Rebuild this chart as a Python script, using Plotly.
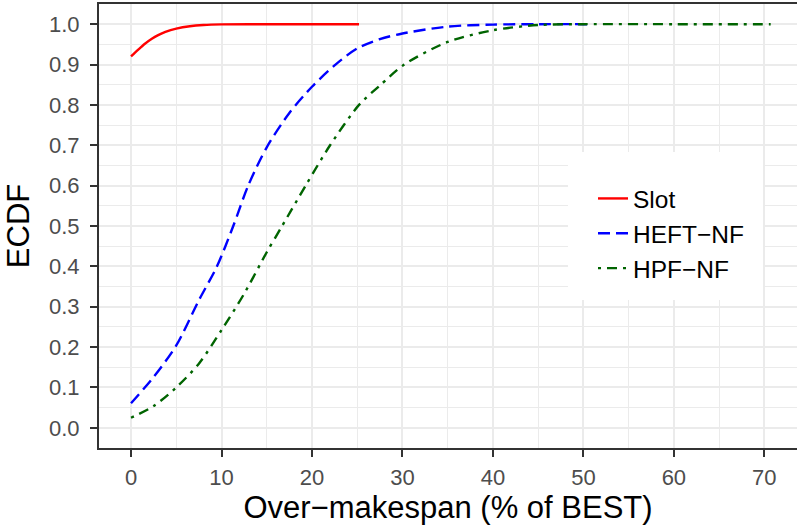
import plotly.graph_objects as go

# ---- data ----
slot_x = [0, 0.8, 1.5, 2.3, 3.0, 3.8, 5.0, 6.5, 8.0, 10.0, 15.0, 25.2]
slot_y = [0.92, 0.937, 0.951, 0.964, 0.973, 0.981, 0.989, 0.995, 0.998, 0.9995, 1.0, 1.0]

heft_x = [0, 2.5, 5, 7.5, 9.5, 11.3, 12.95, 15.0, 17.5, 20, 22.6, 25, 27.5, 30, 35, 40, 45, 50.7]
heft_y = [0.061, 0.126, 0.204, 0.316, 0.4, 0.5, 0.6, 0.695, 0.78, 0.845, 0.9, 0.94, 0.963,
          0.977, 0.994, 0.999, 1.0, 1.0]

hpf_x = [0, 2.5, 5, 7.5, 10, 12.5, 15, 16.7, 19.3, 22, 25.2, 27.5, 30.2, 35, 40, 45, 50, 60, 70.7]
hpf_y = [0.025, 0.054, 0.10, 0.159, 0.242, 0.332, 0.435, 0.5, 0.6, 0.7, 0.8, 0.848,
         0.9, 0.956, 0.985, 0.998, 1.0, 1.0, 1.0]

series_names = ["Slot", "HEFT\u2212NF", "HPF\u2212NF"]
x_ticks = [0, 10, 20, 30, 40, 50, 60, 70]
y_ticks = [0.0, 0.1, 0.2, 0.3, 0.4, 0.5, 0.6, 0.7, 0.8, 0.9, 1.0]

FONT = "Liberation Sans, Arial, Helvetica, sans-serif"

fig = go.Figure()
fig.add_trace(go.Scatter(x=slot_x, y=slot_y, mode="lines", name=series_names[0],
                         line=dict(color="#FF0000", width=2.4, shape="spline", smoothing=0.8),
                         legendgroup="a"))
fig.add_trace(go.Scatter(x=heft_x, y=heft_y, mode="lines", name=series_names[1],
                         line=dict(color="#0000FF", width=2.4, dash="12px,6px", shape="spline", smoothing=0.8),
                         legendgroup="b"))
fig.add_trace(go.Scatter(x=hpf_x, y=hpf_y, mode="lines", name=series_names[2],
                         line=dict(color="#006400", width=2.4, dash="3px,6px,10px,6px", shape="spline", smoothing=0.8),
                         legendgroup="c"))

W, H = 797, 527
L, R, T, B = 99, 0, 4, 79
pw, ph = W - L - R, H - T - B

def px_x(p):
    return (p - L) / pw

def px_y(p):
    return (H - B - p) / ph

# legend background box
fig.add_shape(type="rect", xref="paper", yref="paper",
              x0=px_x(568), x1=px_x(763), y0=px_y(300), y1=px_y(152),
              fillcolor="white", line=dict(width=0), layer="above")

axis_common = dict(
    showline=True, linecolor="#333333", linewidth=2,
    ticks="outside", ticklen=7, tickwidth=2, tickcolor="#333333",
    showgrid=True, gridcolor="#EBEBEB", gridwidth=2,
    zeroline=False,
    tickfont=dict(family=FONT, size=22, color="#4D4D4D"),
)

fig.update_layout(
    width=W, height=H,
    margin=dict(l=L, r=R, t=T, b=B, autoexpand=False),
    paper_bgcolor="white", plot_bgcolor="white",
    font=dict(family=FONT),
    xaxis=dict(range=[-3.54, 73.61], tickvals=x_ticks, mirror=True,
               minor=dict(dtick=5, tick0=0, showgrid=True, gridcolor="#EBEBEB", gridwidth=1, ticks=""),
               title=dict(text="Over\u2212makespan (% of BEST)", font=dict(family=FONT, size=31, color="black"),
                          standoff=2),
               ticklabelstandoff=2,
               **axis_common),
    yaxis=dict(range=[-0.05, 1.05], tickvals=y_ticks, tickformat=".1f",
               minor=dict(dtick=0.05, tick0=0, showgrid=True, gridcolor="#EBEBEB", gridwidth=1, ticks=""),
               title=dict(text="ECDF", font=dict(family=FONT, size=31, color="black"), standoff=10),
               ticklabelstandoff=6,
               **axis_common),
    legend=dict(x=px_x(593), y=px_y(176), xanchor="left", yanchor="top",
                bgcolor="rgba(0,0,0,0)", borderwidth=0,
                font=dict(family=FONT, size=24.5, color="black"),
                tracegroupgap=0),
    showlegend=True,
)

fig.write_html("out.html",
               config={"displayModeBar": False},
               post_script="document.body.style.margin='0px';document.body.style.padding='0px';")
